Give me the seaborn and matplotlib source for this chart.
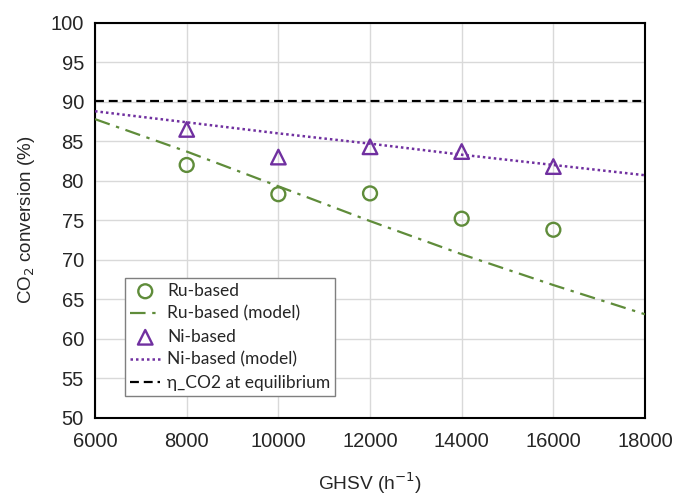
import matplotlib
matplotlib.use('Agg')
import matplotlib.pyplot as plt
import seaborn as sns
import pandas as pd

# measured points
ghsv = [8000, 10000, 12000, 14000, 16000]
ru_conv = [82.0, 78.3, 78.4, 75.2, 73.8]
ni_conv = [86.5, 83.0, 84.3, 83.7, 81.8]

# model curves
ghsv_model = [6000, 8000, 10000, 12000, 14000, 16000, 18000]
ru_model = [87.8, 83.7, 79.3, 74.9, 70.7, 66.8, 63.1]
ni_model = [88.8, 87.4, 86.0, 84.7, 83.3, 82.0, 80.7]

# equilibrium
ghsv_eq = [6000, 18000]
eq_conv = [90.1, 90.1]

green = '#5f8c3a'
purple = '#7030a0'

sns.set_style('white')
plt.rcParams['font.family'] = ['Liberation Sans', 'DejaVu Sans']

fig = plt.figure(figsize=(6.74, 4.95), dpi=100)
ax = fig.add_axes([0.141, 0.156, 0.816, 0.798])

sns.scatterplot(x=ghsv, y=ru_conv, ax=ax, marker='o', s=100, facecolor='none',
                edgecolor=green, linewidth=1.7, label='Ru-based', zorder=5)
sns.lineplot(x=ghsv_model, y=ru_model, ax=ax, color=green, linewidth=1.6,
             label='Ru-based (model)', zorder=4)
ax.lines[-1].set_dashes([7, 3, 1.5, 3])
sns.scatterplot(x=ghsv, y=ni_conv, ax=ax, marker='^', s=110, facecolor='none',
                edgecolor=purple, linewidth=1.7, label='Ni-based', zorder=5)
sns.lineplot(x=ghsv_model, y=ni_model, ax=ax, color=purple, linewidth=1.8,
             label='Ni-based (model)', zorder=4)
ax.lines[-1].set_dashes([1, 1.2])
sns.lineplot(x=ghsv_eq, y=eq_conv, ax=ax, color='black', linewidth=1.6,
             label='η_CO2 at equilibrium', zorder=4)
ax.lines[-1].set_dashes([4, 2.2])

ax.set_xlim(6000, 18000)
ax.set_ylim(50, 100)
ax.set_xticks(range(6000, 18001, 2000))
ax.set_yticks(range(50, 101, 5))
ax.grid(True, color='#d9d9d9', linewidth=1)
ax.set_axisbelow(True)
ax.tick_params(axis='both', labelsize=14.5, length=0)
ax.tick_params(axis='x', pad=10)
ax.tick_params(axis='y', pad=8)
for s in ax.spines.values():
    s.set_color('black')
    s.set_linewidth(1.5)

ax.set_xlabel('GHSV (h$^{-1}$)', fontsize=13.8, labelpad=14)
ax.set_ylabel('CO$_2$ conversion (%)', fontsize=13.5, labelpad=10)

handles, labels = ax.get_legend_handles_labels()
leg = ax.legend(handles, labels, loc='lower left', bbox_to_anchor=(0.055, 0.055),
                fancybox=False, framealpha=1, edgecolor='#7f7f7f',
                prop={'family': 'Lato', 'size': 12.5}, handlelength=1.7,
                borderpad=0.3, labelspacing=0.4, handletextpad=0.4,
                borderaxespad=0)
leg.get_frame().set_linewidth(1.0)

fig.savefig('out.png', dpi=100)
